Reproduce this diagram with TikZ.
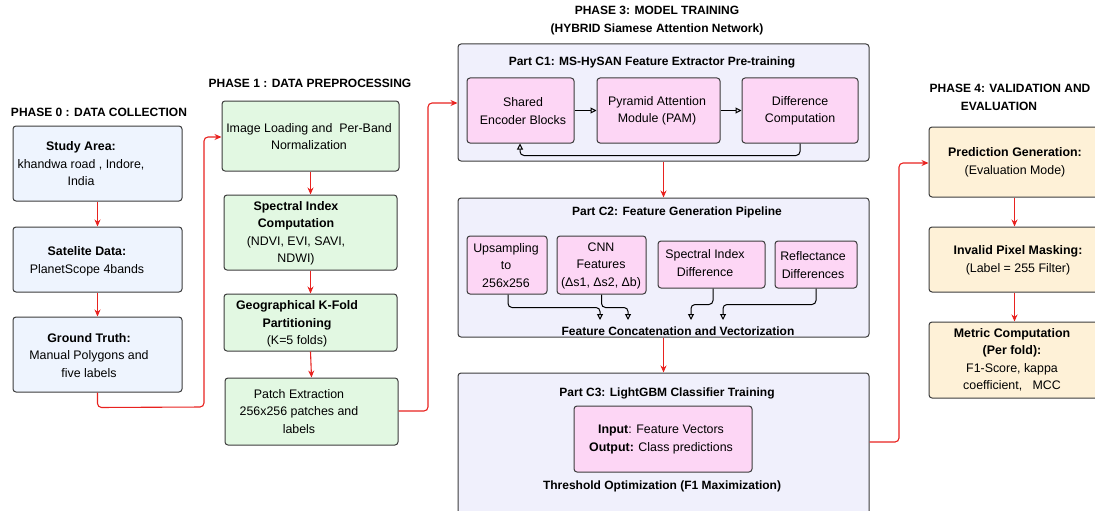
\documentclass[tikz,border=0pt]{standalone}
\usepackage{fontspec}
\setmainfont{Liberation Sans}
\usetikzlibrary{arrows.meta}
\definecolor{cblue}{HTML}{EEF4FE}
\definecolor{cgreen}{HTML}{E2F8E2}
\definecolor{clav}{HTML}{F0F0FC}
\definecolor{cpink}{HTML}{FDD6F5}
\definecolor{ccream}{HTML}{FEF1D7}
\definecolor{cred}{HTML}{E8221F}
\definecolor{cedge}{HTML}{3C3C3C}
\tikzset{
  every node/.style={font=\fontsize{12.4}{17.5}\selectfont, text=black},
  boxbase/.style={draw=cedge, line width=1pt, rounded corners=3pt, inner sep=0pt},
  bluebox/.style={boxbase, fill=cblue},
  greenbox/.style={boxbase, fill=cgreen},
  lavbox/.style={boxbase, fill=clav},
  pinkbox/.style={boxbase, fill=cpink},
  creambox/.style={boxbase, fill=ccream},
  txt/.style={align=center, inner sep=0pt},
  head/.style={align=center, inner sep=0pt, font=\fontsize{12}{17.5}\selectfont\bfseries},
  redarrow/.style={draw=cred, line width=1.1pt, rounded corners=4pt, -{Stealth[length=7pt,width=6pt]}},
  blackarrow/.style={draw=black, line width=1pt, rounded corners=4pt, -{Triangle[open,length=6pt,width=6pt]}},
}
\begin{document}
\begin{tikzpicture}[x=1pt,y=-1pt]
\useasboundingbox (0,0) rectangle (1095,511);
\clip (0,0) rectangle (1095,511);

% ---------- Phase 0
\node[head] (h0) at (99,112) {PHASE 0 : DATA COLLECTION};
\node[bluebox, minimum width=169pt, minimum height=75pt] (sa) at (97.5,163.5) {};
\node[bluebox, minimum width=169pt, minimum height=65pt] (sd) at (97.5,259.5) {};
\node[bluebox, minimum width=169pt, minimum height=75pt] (gt) at (97.5,354.5) {};
\node[txt] (sat) at (81,164) {\textbf{Study Area:}\\khandwa road , Indore,\\India};
\node[txt] (sdt) at (87,261.5) {\textbf{Satelite Data:}\\PlanetScope 4bands};
\node[txt] (gtt) at (89,355.5) {\textbf{Ground Truth:}\\Manual Polygons and\\five labels};

% ---------- Phase 1
\node[head] (h1) at (310,83) {PHASE 1 : DATA PREPROCESSING};
\node[greenbox, minimum width=177pt, minimum height=70pt] (il) at (310.5,136) {};
\node[greenbox, minimum width=173pt, minimum height=75pt] (si) at (310.5,232.5) {};
\node[greenbox, minimum width=173pt, minimum height=57pt] (gk) at (310.5,322.5) {};
\node[greenbox, minimum width=173pt, minimum height=67pt] (pe) at (311.5,411.5) {};
\node[txt] (ilt) at (309,136.5) {Image Loading and\ \ Per-Band\\Normalization};
\node[txt] (sit) at (296,233.5) {\textbf{Spectral Index}\\\textbf{Computation}\\(NDVI, EVI, SAVI,\\NDWI)};
\node[txt] (gkt) at (297,324) {\textbf{Geographical K-Fold}\\\textbf{Partitioning}\\(K=5 folds)};
\node[txt] (pet) at (299,411.5) {Patch Extraction\\256x256 patches and\\labels};

% ---------- Phase 3
\node[head] (h3) at (657,20.5) {PHASE 3: MODEL TRAINING\\(HYBRID Siamese Attention Network)};

\node[lavbox, minimum width=411pt, minimum height=117pt] (c1) at (663.5,102.5) {};
\node[head] (c1t) at (652,62) {Part C1: MS-HySAN Feature Extractor Pre-training};
\node[pinkbox, minimum width=107pt, minimum height=65pt] (se) at (520.5,110.5) {};
\node[pinkbox, minimum width=123pt, minimum height=65pt] (pam) at (658.5,110.5) {};
\node[pinkbox, minimum width=116pt, minimum height=65pt] (dc) at (800,110.5) {};
\node[txt] (set) at (523,111) {Shared\\Encoder Blocks};
\node[txt] (pamt) at (657,111) {Pyramid Attention\\Module (PAM)};
\node[txt] (dct) at (800,111) {Difference\\Computation};
\draw[blackarrow] (se.east) -- (pam.west);
\draw[blackarrow] (pam.east) -- (dc.west);
\draw[blackarrow] (dc.south) -- ++(0,12) -| (se.south -| 520,0);

\node[lavbox, minimum width=411pt, minimum height=139pt] (c2) at (663.5,267.5) {};
\node[head] (c2t) at (677,212) {Part C2: Feature Generation Pipeline};
\node[pinkbox, minimum width=80pt, minimum height=58pt] (up) at (507,265) {};
\node[pinkbox, minimum width=89pt, minimum height=58pt] (cnn) at (601.5,265) {};
\node[pinkbox, minimum width=107pt, minimum height=47pt] (sid) at (711.5,264.5) {};
\node[pinkbox, minimum width=82pt, minimum height=47pt] (rd) at (816,264.5) {};
\node[txt] (upt) at (506,265.5) {Upsampling\\to\\256x256};
\node[txt] (cnnt) at (601,265.5) {CNN\\Features\\(Δs1, Δs2, Δb)};
\node[txt] (sidt) at (705,263) {Spectral Index\\Difference};
\node[txt] (rdt) at (813,265) {Reflectance\\Differences};
\node[head] (cat) at (678,331) {Feature Concatenation and Vectorization};
\coordinate (k1) at (600,320);
\coordinate (k2) at (628,320);
\coordinate (k3) at (691,320);
\coordinate (k4) at (723,320);
\draw[blackarrow] (up.south -| 508,0) -- ++(0,13) -| (k1);
\draw[blackarrow] (cnn.south) -- ++(0,13) -| (k2);
\draw[blackarrow] (sid.south -| 713,0) -- ++(0,16) -| (k3);
\draw[blackarrow] (rd.south) -- ++(0,16) -| (k4);

\node[lavbox, minimum width=411pt, minimum height=150pt] (c3) at (663.5,448) {};
\node[head] (c3t) at (667,393) {Part C3: LightGBM Classifier Training};
\node[pinkbox, minimum width=178pt, minimum height=66pt] (io) at (663,439) {};
\node[txt] (iot) at (661,439.5) {\textbf{Input}: Feature Vectors\\\textbf{Output:} Class predictions};
\node[head] (tho) at (662,486) {Threshold Optimization (F1 Maximization)};

\draw[redarrow] (c1.south) -- (c2.north);
\draw[redarrow] (c2.south) -- (c3.north);

% ---------- Phase 4
\node[head] (h4) at (1010,97.5) {PHASE 4: VALIDATION AND\\EVALUATION\hspace*{22pt}};
\node[creambox, minimum width=171pt, minimum height=70pt] (pg) at (1014.5,162) {};
\node[creambox, minimum width=171pt, minimum height=65pt] (ip) at (1014.5,259.5) {};
\node[creambox, minimum width=171pt, minimum height=76pt] (mc) at (1014.5,360) {};
\node[txt] (pgt) at (1015,162.5) {\textbf{Prediction Generation:}\\(Evaluation Mode)};
\node[txt] (ipt) at (1018,260.5) {\textbf{Invalid Pixel Masking:}\\(Label = 255 Filter)};
\node[txt] (mct) at (1012,360) {\textbf{Metric Computation}\\\textbf{(Per fold):}\\F1-Score, kappa\\coefficient,\ \ \ MCC};

% ---------- red connectors
\draw[redarrow] (sa.south) -- (sd.north);
\draw[redarrow] (sd.south) -- (gt.north);
\draw[redarrow] (il.south) -- (si.north);
\draw[redarrow] (si.south) -- (gk.north);
\draw[redarrow] (gk.south) -- (pe.north);
\draw[redarrow] (pg.south) -- (ip.north);
\draw[redarrow] (ip.south) -- (mc.north);

\draw[redarrow] (gt.south) -- ++(0,15) -- (204,407) -- (204,137) -- (il.west |- 0,137);
\draw[redarrow] (pe.east |- 0,411) -- (428,411) -- (428,103) -- (c1.west |- 0,103);
\draw[redarrow] (c3.east |- 0,442) -- (899,442) -- (899,163) -- (pg.west |- 0,163);
\end{tikzpicture}
\end{document}
